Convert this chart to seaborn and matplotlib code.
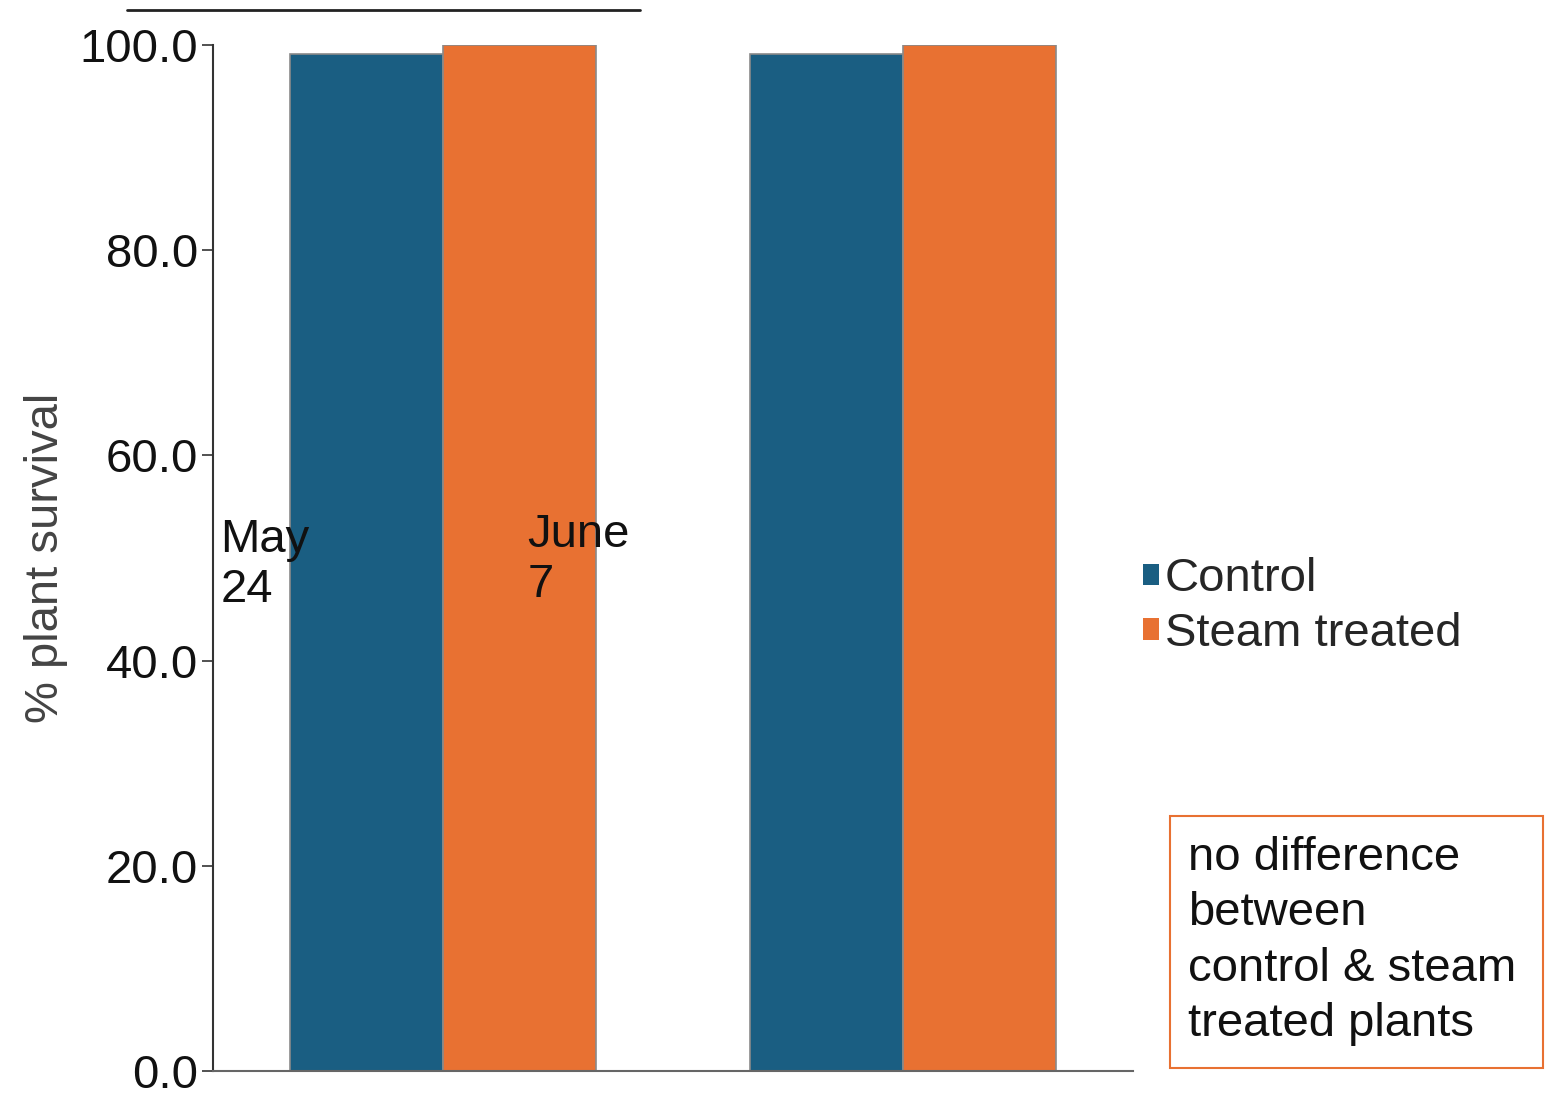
import matplotlib
matplotlib.use("Agg")
import matplotlib.pyplot as plt
import matplotlib.patches as mpatches
import seaborn as sns
import pandas as pd

# Survival data
dates = ["May\n24", "June\n7"]
treatments = ["Control", "Steam treated"]
control_values = [99.1, 99.1]
steam_values = [100.0, 100.0]
colors = ["#1A5E82", "#E87132"]
yticks = [0, 20, 40, 60, 80, 100]

df = pd.DataFrame({
    "Date": dates * 2,
    "Treatment": [treatments[0]] * len(dates) + [treatments[1]] * len(dates),
    "Survival": control_values + steam_values,
})

sns.set_theme(style="white")
plt.rcParams["font.family"] = ["Liberation Sans", "DejaVu Sans"]
FS = 34

fig = plt.figure(figsize=(15.45, 10.93), dpi=100)
ax = fig.add_axes([0.1379, 0.0201, 0.5954, 0.9387])

sns.barplot(data=df, x="Date", y="Survival", hue="Treatment", order=dates,
            hue_order=treatments, palette=colors, width=0.667, saturation=1,
            edgecolor="#8a8a8a", linewidth=1.2, errorbar=None, ax=ax)

ax.set_xlim(-0.5, 1.5)
ax.set_ylim(0, 100)
ax.set_yticks(yticks)
ax.set_yticklabels([f"{v:.1f}" for v in yticks], fontsize=FS)
ax.set_xticks([])
ax.set_xlabel("")
ax.set_ylabel("% plant survival", fontsize=FS, color="#444444", labelpad=8)
ax.tick_params(axis="y", which="major", left=True, length=8, width=1.2,
               color="#333333", pad=3, labelcolor="#111111")
# keep the bottom tick label inside the canvas
ax.get_yticklabels()[0].set_va("center_baseline")

for side in ["top", "right"]:
    ax.spines[side].set_visible(False)
ax.spines["left"].set_color("#333333")
ax.spines["left"].set_linewidth(1.5)
ax.spines["bottom"].set_color("#666666")
ax.spines["bottom"].set_linewidth(1.5)

# Date labels inside the plot area
ax.text(0.008, 0.493, dates[0], transform=ax.transAxes, fontsize=FS,
        ha="left", va="center", color="#111111", linespacing=1.17)
ax.text(0.342, 0.498, dates[1], transform=ax.transAxes, fontsize=FS,
        ha="left", va="center", color="#111111", linespacing=1.17)

# Legend with small square handles
handles = [mpatches.Patch(facecolor=c, edgecolor="none") for c in colors]
leg = fig.legend(handles, treatments, loc="center left",
                 bbox_to_anchor=(0.740, 0.445), fontsize=FS, frameon=False,
                 handlelength=0.33, handleheight=0.33, handletextpad=0.12,
                 labelspacing=0.22, borderaxespad=0, borderpad=0)
if ax.get_legend() is not None:
    ax.get_legend().remove()

# Line at the top of the figure
fig.add_artist(plt.Line2D([127 / 1545, 640 / 1545], [1 - 10 / 1093, 1 - 10 / 1093],
                          transform=fig.transFigure, color="#222222", linewidth=2))

# Boxed note
box = mpatches.Rectangle((1170 / 1545, 1 - 1068 / 1093), 373 / 1545, 252 / 1093,
                         transform=fig.transFigure, facecolor="white",
                         edgecolor="#E87132", linewidth=1.5)
fig.add_artist(box)
fig.text(1188 / 1545, 1 - 941 / 1093,
         "no difference\nbetween\ncontrol & steam\ntreated plants",
         fontsize=FS, ha="left", va="center", color="#111111", linespacing=1.33)

fig.savefig("out.png", dpi=100)
